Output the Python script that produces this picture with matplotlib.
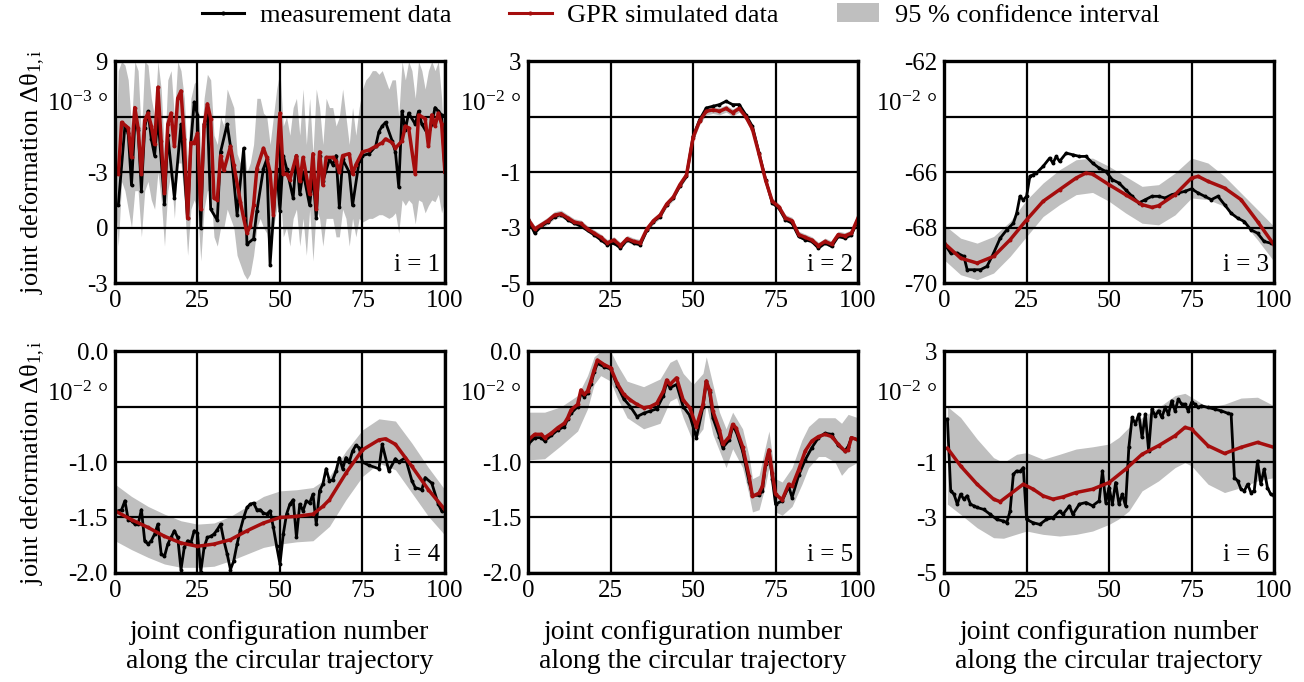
import numpy as np
import matplotlib
matplotlib.use("Agg")
import matplotlib.pyplot as plt
from matplotlib.patches import Patch
from matplotlib.lines import Line2D

plt.rcParams['font.family'] = ['Liberation Serif', 'DejaVu Serif']
plt.rcParams['mathtext.fontset'] = 'custom'
plt.rcParams['mathtext.rm'] = 'Liberation Serif'
plt.rcParams['mathtext.it'] = 'Liberation Serif:italic'

RED = "#a50d0d"
GRAY = "#bfbfbf"

# ---------------- panel i = 1 (10^-3 deg) ----------------
meas1_x = [1, 3, 4, 5, 6, 7, 8, 9, 10, 11, 12, 13, 15, 16, 18, 20, 22, 23, 24, 25, 26, 27, 28, 29, 31, 32,
           34, 35, 37, 39, 40, 42, 43, 45, 46, 47, 49, 50, 51, 52, 54, 55, 56, 57, 59, 60, 61, 62, 63, 65,
           66, 67, 68, 69, 71, 72, 74, 75, 77, 79, 80, 81, 82, 84, 85, 86, 87, 88, 89, 91, 92, 93, 95, 96,
           97, 98, 99, 100]
meas1_y = [1.2, 5.5, 5.1, 2.3, 5.6, 5.3, 2.0, 5.4, 6.3, 4.8, 3.9, 6.0, 1.3, 5.0, 1.6, 5.6, 0.5, 4.6, 6.8, 6.1,
           0.0, 5.6, 6.2, 1.0, 0.4, 4.1, 5.6, 4.4, 0.7, 4.3, -0.9, -0.6, 0.9, 3.2, 3.7, -2.0, 3.2, 0.9, 3.9,
           3.2, 1.6, 3.9, 1.8, 3.0, 1.2, 2.9, 0.5, 3.9, 2.5, 3.7, 3.4, 3.9, 1.1, 3.7, 3.0, 1.2, 3.6, 3.9, 4.0,
           4.4, 5.2, 5.5, 5.7, 4.7, 4.1, 2.2, 6.3, 5.3, 6.2, 5.6, 6.3, 5.6, 5.0, 5.6, 6.5, 6.3, 6.1, 3.0]
gpr1_x = [1, 2, 4, 5, 6, 7, 8, 9, 10, 11, 12, 13, 14, 15, 16, 17, 18, 19, 20, 21, 22, 23, 24, 25, 26, 27,
          28, 29, 30, 31, 32, 33, 35, 36, 38, 39, 40, 41, 42, 43, 45, 46, 47, 48, 50, 51, 52, 53, 55, 56,
          57, 59, 60, 61, 62, 63, 64, 66, 67, 68, 69, 71, 72, 73, 75, 77, 79, 81, 82, 84, 85, 87, 88, 89,
          91, 92, 94, 95, 96, 97, 98, 99, 100]
gpr1_y = [2.9, 5.7, 5.4, 3.8, 6.5, 5.4, 2.9, 5.8, 6.2, 5.5, 4.5, 7.6, 4.7, 1.9, 5.6, 6.2, 4.4, 7.0, 7.4, 4.8,
          0.5, 4.6, 4.6, 5.1, 1.0, 5.5, 6.7, 5.9, 1.6, 1.5, 3.9, 3.1, 4.4, 3.4, 1.4, 0.5, -0.3, 0.1, 1.2,
          3.2, 4.3, 3.8, 3.0, 0.7, 6.2, 2.9, 2.9, 2.6, 3.9, 2.5, 3.8, 1.8, 4.0, 1.0, 4.1, 2.3, 3.8, 3.8, 3.6,
          3.0, 3.9, 4.0, 2.9, 3.4, 4.1, 4.2, 4.4, 4.6, 4.8, 4.6, 4.3, 4.7, 5.5, 5.4, 2.9, 6.1, 5.9, 4.4,
          6.1, 5.5, 6.2, 5.6, 3.0]
band1_x = list(range(0, 101))
band1_hi = [3, 8.5, 9, 8.8, 8, 5.5, 9, 8.5, 5, 9, 8.8, 7, 6, 9, 7.5, 4, 8, 8.5, 6, 9, 8.5, 7, 3.5, 7, 7.8,
            8, 4, 7, 8.3, 8, 5, 4.5, 6, 5.5, 7.5, 7, 6.5, 4, 3.5, 4.5, 3, 3.5, 4.5, 7, 7, 6.2, 6, 4.5, 6,
            7.5, 8.5, 5.5, 6, 5, 6.5, 7, 5, 7.5, 4.5, 7, 4, 7.5, 6.5, 4.5, 7, 6.5, 6.5, 5.5, 6, 7.5, 6,
            4.5, 6.5, 5, 6.5, 7.5, 8, 8.2, 8.5, 8.5, 8.3, 8.5, 8, 7.5, 8, 8, 6, 9, 8, 9, 8.5, 7, 9, 8.5,
            7.5, 8.5, 9, 8.5, 9, 7, 3.5]
band1_lo = [1.5, -1, 2.5, 2, 1, 0, 2, 2, -0.5, 2, 2.5, 1.5, 1, 3, 1.5, -1, 2, 3, 0.5, 3.5, 3.5, 1.5, -1.5,
            1, 1.5, 1, -1.8, 1, 2, 2, -0.5, -1, 0, 0, 1, 0.5, 0, -1.5, -2, -2.5, -2.8, -2.5, -1.5, 0, 0.5,
            0, -0.3, -1.5, 0, 1, 2, -0.5, 0, -1, 0.5, 1, -1, 0.5, -1.5, 1, -1.8, 1, 0.5, -1, 0.5, 0.5,
            0.5, -0.5, -0.5, 1, 0.5, -1, 0.5, -0.5, 0.5, 0.3, 0.4, 0.5, 0.5, 0.6, 0.7, 0.7, 0.6, 0.5, 0.6,
            0.8, -0.3, 1.5, 1.2, 1.5, 1.3, 0.2, 1.5, 1.4, 0.8, 1.2, 1.5, 1.4, 1.8, 0.8, 1.5]

# ---------------- panel i = 2 (10^-2 deg) ----------------
x2 = list(range(0, 101, 2))
meas2_y = [-2.72, -3.2, -2.95, -2.8, -2.6, -2.53, -2.72, -2.84, -2.95, -3.1, -3.26, -3.44, -3.62, -3.56,
           -3.74, -3.44, -3.56, -3.62, -3.1, -2.78, -2.6, -2.17, -1.93, -1.5, -1.15, 0.29, 0.9, 1.32, 1.38,
           1.44, 1.56, 1.44, 1.44, 1.07, 0.65, -0.31, -1.27, -2.11, -2.3, -2.72, -2.84, -3.32, -3.44, -3.5,
           -3.74, -3.56, -3.68, -3.32, -3.38, -3.26, -2.72]
gpr2_y = [-2.7, -3.05, -2.9, -2.75, -2.55, -2.5, -2.65, -2.8, -2.85, -3.05, -3.2, -3.35, -3.55, -3.45,
          -3.65, -3.4, -3.5, -3.55, -3.05, -2.75, -2.55, -2.15, -1.9, -1.45, -1.1, 0.25, 0.85, 1.2, 1.25,
          1.2, 1.3, 1.15, 1.3, 1.0, 0.55, -0.35, -1.3, -2.05, -2.25, -2.65, -2.75, -3.25, -3.35, -3.45,
          -3.65, -3.5, -3.6, -3.25, -3.3, -3.2, -2.65]
gpr2_half = [0.12, 0.12, 0.12, 0.13, 0.13, 0.13, 0.12, 0.12, 0.12, 0.12, 0.12, 0.12, 0.12, 0.12, 0.12,
             0.12, 0.12, 0.12, 0.12, 0.12, 0.12, 0.12, 0.12, 0.12, 0.13, 0.13, 0.13, 0.13, 0.13, 0.13,
             0.13, 0.13, 0.13, 0.13, 0.13, 0.13, 0.13, 0.12, 0.12, 0.12, 0.12, 0.12, 0.12, 0.12, 0.12,
             0.12, 0.12, 0.12, 0.12, 0.12, 0.12]

# ---------------- panel i = 3 (10^-2 deg) ----------------
meas3_x = [0, 2, 4, 6, 7, 9, 11, 13, 15, 17, 19, 21, 22, 23, 24, 25, 26, 27, 28, 30, 32, 33, 34, 35, 37,
           39, 41, 43, 45, 47, 49, 51, 53, 55, 57, 59, 61, 63, 65, 67, 69, 71, 73, 75, 77, 79, 81, 83, 85,
           87, 89, 91, 93, 95, 97, 99]
meas3_y = [-68.56, -68.92, -68.92, -69.04, -69.52, -69.52, -69.52, -69.4, -68.92, -68.38, -68.08, -67.84,
           -67.48, -66.87, -67.0, -66.87, -66.15, -66.09, -66.03, -65.79, -65.49, -65.67, -65.43, -65.61,
           -65.31, -65.37, -65.43, -65.43, -65.67, -65.85, -65.97, -66.27, -66.39, -66.63, -66.87, -67.11,
           -66.99, -66.87, -66.87, -66.93, -66.81, -66.75, -66.69, -66.6, -66.75, -66.87, -66.99, -66.87,
           -67.17, -67.48, -67.66, -67.78, -68.08, -68.2, -68.5, -68.56]
gpr3_x = [0, 5, 10, 15, 20, 25, 30, 35, 40, 43, 45, 50, 55, 60, 63, 65, 70, 75, 77, 80, 85, 90, 95, 100]
gpr3_y = [-68.56, -69.1, -69.28, -69.04, -68.44, -67.72, -67.05, -66.63, -66.21, -66.03, -66.07, -66.45,
          -66.81, -67.17, -67.27, -67.21, -66.81, -66.21, -66.15, -66.33, -66.57, -66.99, -67.78, -68.62]
band3_x = [0, 5, 10, 15, 20, 25, 30, 35, 40, 45, 50, 55, 60, 65, 70, 75, 80, 85, 90, 95, 100]
band3_hi = [-67.9, -68.38, -68.56, -68.32, -67.78, -67.0, -66.39, -65.91, -65.55, -65.49, -65.79, -66.15,
            -66.51, -66.45, -66.03, -65.49, -65.67, -66.15, -66.75, -67.35, -67.96]
band3_lo = [-69.16, -69.7, -69.88, -69.64, -69.04, -68.32, -67.6, -67.17, -66.81, -66.73, -67.05, -67.47,
            -67.84, -67.9, -67.54, -66.93, -66.99, -67.23, -67.72, -68.44, -69.22]

# ---------------- panel i = 4 (10^-2 deg) ----------------
meas4_x = [1, 2, 3, 4, 5, 6, 7, 8, 9, 10, 11, 12, 13, 14, 15, 16, 17, 18, 19, 20, 21, 22, 23, 24, 25, 26,
           27, 28, 29, 30, 31, 32, 33, 34, 35, 36, 37, 38, 39, 40, 41, 42, 43, 44, 45, 46, 47, 48, 49, 50,
           51, 52, 53, 54, 55, 56, 57, 58, 59, 60, 61, 62, 63, 64, 65, 66, 67, 68, 69, 70, 71, 72, 73, 74,
           75, 77, 80, 81, 83, 85, 86, 88, 90, 91, 93, 94, 96, 98, 99]
meas4_y = [-1.44, -1.43, -1.35, -1.52, -1.53, -1.56, -1.56, -1.43, -1.71, -1.74, -1.71, -1.65, -1.56,
           -1.83, -1.85, -1.74, -1.68, -1.62, -1.68, -1.97, -1.77, -1.71, -1.73, -1.62, -1.64, -1.99,
           -1.77, -1.68, -1.67, -1.65, -1.61, -1.56, -1.71, -1.83, -1.97, -1.89, -1.74, -1.61, -1.50,
           -1.41, -1.38, -1.37, -1.43, -1.43, -1.46, -1.47, -1.44, -1.59, -1.76, -1.92, -1.65, -1.47,
           -1.38, -1.34, -1.68, -1.38, -1.44, -1.35, -1.37, -1.29, -1.56, -1.26, -1.20, -1.06, -1.17,
           -1.16, -1.08, -0.96, -1.06, -0.96, -1.00, -0.90, -0.85, -0.87, -1.00, -1.03, -1.06, -0.84,
           -1.08, -0.97, -1.00, -0.96, -1.17, -1.23, -1.25, -1.14, -1.19, -1.38, -1.44]
gpr4_x = [0, 5, 10, 15, 20, 25, 30, 35, 40, 45, 50, 55, 60, 63, 65, 70, 75, 80, 82, 85, 90, 95, 100]
gpr4_y = [-1.44, -1.52, -1.59, -1.67, -1.73, -1.76, -1.74, -1.70, -1.62, -1.55, -1.50, -1.49, -1.47, -1.40,
          -1.34, -1.10, -0.89, -0.80, -0.79, -0.84, -1.04, -1.25, -1.43]
band4_x = [0, 5, 10, 15, 20, 25, 30, 35, 40, 45, 50, 55, 60, 65, 70, 75, 80, 85, 90, 95, 100]
band4_hi = [-1.20, -1.31, -1.40, -1.47, -1.53, -1.56, -1.55, -1.49, -1.40, -1.31, -1.26, -1.25, -1.23,
            -1.13, -0.90, -0.71, -0.61, -0.63, -0.83, -1.05, -1.25]
band4_lo = [-1.71, -1.79, -1.86, -1.92, -1.95, -1.95, -1.94, -1.89, -1.83, -1.77, -1.74, -1.72, -1.71,
            -1.58, -1.34, -1.13, -1.01, -1.07, -1.28, -1.49, -1.66]

# ---------------- panel i = 5 (10^-2 deg) ----------------
gpr5_x = [0, 2, 4, 5, 7, 9, 11, 12, 13, 15, 16, 17, 18, 19, 20, 21, 23, 25, 27, 29, 31, 33, 35, 37, 39,
          41, 42, 43, 45, 47, 49, 51, 53, 54, 55, 56, 58, 59, 61, 62, 63, 65, 67, 68, 70, 71, 72, 73, 74,
          75, 77, 79, 80, 82, 84, 86, 88, 90, 92, 94, 96, 97, 98, 100]
gpr5_y = [-0.80, -0.75, -0.75, -0.78, -0.74, -0.69, -0.65, -0.60, -0.53, -0.48, -0.35, -0.39, -0.36,
          -0.27, -0.17, -0.08, -0.12, -0.15, -0.29, -0.39, -0.44, -0.48, -0.51, -0.50, -0.47, -0.36, -0.26,
          -0.30, -0.24, -0.44, -0.51, -0.68, -0.48, -0.27, -0.35, -0.54, -0.71, -0.84, -0.77, -0.66, -0.69,
          -0.86, -1.13, -1.31, -1.28, -1.22, -1.01, -0.89, -1.10, -1.29, -1.34, -1.20, -1.22, -1.07, -0.90,
          -0.81, -0.77, -0.75, -0.77, -0.84, -0.90, -0.89, -0.78, -0.80]
meas5_y = [-0.84, -0.78, -0.78, -0.81, -0.76, -0.71, -0.68, -0.61, -0.56, -0.50, -0.38, -0.41, -0.38,
           -0.30, -0.19, -0.11, -0.14, -0.16, -0.31, -0.43, -0.50, -0.59, -0.56, -0.54, -0.52, -0.40, -0.28,
           -0.33, -0.30, -0.50, -0.58, -0.78, -0.50, -0.27, -0.37, -0.60, -0.77, -0.87, -0.80, -0.68, -0.72,
           -0.90, -1.18, -1.30, -1.30, -1.26, -1.02, -0.90, -1.15, -1.38, -1.35, -1.22, -1.32, -1.12, -0.98,
           -0.87, -0.78, -0.74, -0.75, -0.85, -0.90, -0.86, -0.78, -0.80]
band5_x = [0, 5, 10, 15, 18, 20, 22, 25, 27, 30, 35, 40, 43, 45, 47, 50, 53, 54, 56, 58, 60, 62, 65, 67,
           68, 70, 72, 73, 75, 77, 80, 83, 85, 88, 90, 93, 95, 97, 100]
band5_hi = [-0.55, -0.55, -0.50, -0.40, -0.22, -0.05, 0.0, 0.0, -0.12, -0.27, -0.32, -0.25, -0.10, -0.07,
            -0.20, -0.30, -0.20, -0.05, -0.30, -0.55, -0.70, -0.55, -0.70, -0.95, -1.15, -1.12, -0.85,
            -0.72, -1.15, -1.18, -1.05, -0.80, -0.68, -0.60, -0.60, -0.60, -0.65, -0.57, -0.60]
band5_lo = [-0.98, -0.97, -0.85, -0.72, -0.52, -0.30, -0.22, -0.27, -0.42, -0.60, -0.70, -0.65, -0.45,
            -0.42, -0.60, -0.82, -0.70, -0.48, -0.75, -0.90, -1.05, -0.88, -1.05, -1.30, -1.45, -1.43,
            -1.20, -1.05, -1.45, -1.48, -1.40, -1.20, -1.05, -0.95, -0.95, -1.00, -1.12, -1.05, -1.00]

# ---------------- panel i = 6 (10^-2 deg) ----------------
meas6_x = [1, 2, 3, 4, 5, 6, 7, 8, 9, 10, 12, 14, 16, 18, 19, 20, 21, 22, 23, 24, 25, 27, 29, 31, 33, 35,
           36, 38, 39, 41, 43, 45, 47, 48, 49, 50, 51, 52, 53, 54, 55, 56, 57, 58, 59, 60, 61, 62, 63, 64,
           65, 66, 67, 68, 69, 70, 71, 72, 73, 74, 75, 76, 77, 78, 80, 82, 84, 86, 87, 88, 89, 90, 91, 92,
           93, 94, 95, 96, 97, 98, 99, 100]
meas6_y = [0.55, -2.04, -2.16, -2.52, -2.16, -2.34, -2.22, -2.52, -2.58, -2.64, -2.71, -2.89, -3.07, -3.13,
           -3.19, -2.77, -1.44, -1.32, -1.34, -1.20, -3.07, -3.19, -3.25, -3.07, -3.01, -2.77, -2.89, -2.58,
           -2.89, -2.52, -2.46, -2.58, -2.40, -1.32, -2.46, -1.92, -2.52, -1.74, -2.52, -2.16, -2.58, -0.47,
           0.61, 0.37, 0.73, -0.11, 0.73, -0.59, 0.91, 0.67, 0.85, 0.61, 0.97, 0.73, 1.21, 0.85, 1.27, 1.09,
           1.09, 0.85, 1.15, 1.09, 0.97, 1.03, 0.97, 0.91, 0.85, 0.76, 0.73, -1.56, -1.68, -1.98, -2.04,
           -1.80, -2.10, -2.04, -0.96, -1.80, -1.26, -1.92, -2.16, -2.22]
gpr6_x = [1, 5, 10, 15, 17, 20, 24, 27, 30, 33, 36, 40, 45, 50, 55, 60, 65, 70, 73, 75, 80, 85, 90, 95, 100]
gpr6_y = [-0.5, -1.14, -1.80, -2.34, -2.43, -2.16, -1.80, -1.98, -2.22, -2.34, -2.26, -2.10, -1.98, -1.74,
          -1.26, -0.72, -0.41, -0.05, 0.25, 0.19, -0.41, -0.69, -0.47, -0.29, -0.47]
band6_x = [1, 5, 10, 15, 18, 22, 25, 30, 35, 40, 45, 50, 53, 56, 60, 65, 70, 73, 75, 80, 85, 90, 95, 100]
band6_hi = [1.0, 0.61, -0.17, -0.84, -1.02, -0.72, -0.66, -0.9, -0.72, -0.53, -0.45, -0.35, -0.11, 0.25,
            0.61, 0.97, 1.40, 1.48, 1.34, 0.97, 1.09, 1.31, 1.34, 1.03]
band6_lo = [-2.52, -2.89, -3.37, -3.73, -3.75, -3.6, -3.49, -3.61, -3.67, -3.61, -3.49, -3.25, -3.05,
            -2.77, -2.04, -1.68, -1.20, -1.02, -1.14, -1.80, -2.10, -1.92, -1.68, -1.56]

# y axes: limits, tick values, tick labels (the unit label sits at the 2nd tick)
ylims = [(-3, 9), (-5, 3), (-70, -62), (-2, 0), (-2, 0), (-5, 3)]
yticks = [[9, 6, 3, 0, -3], [3, 1, -1, -3, -5], [-62, -64, -66, -68, -70],
          [0, -0.5, -1, -1.5, -2], [0, -0.5, -1, -1.5, -2], [3, 1, -1, -3, -5]]
ylabels = [["9", "", "-3", "0", "-3"], ["3", "", "-1", "-3", "-5"], ["-62", "", "-66", "-68", "-70"],
           ["0.0", "", "-1.0", "-1.5", "-2.0"], ["0.0", "", "-1.0", "-1.5", "-2.0"],
           ["3", "", "-1", "-3", "-5"]]
units = ["10$^{-3}$ °", "10$^{-2}$ °", "10$^{-2}$ °", "10$^{-2}$ °", "10$^{-2}$ °", "10$^{-2}$ °"]
xticks = [0, 25, 50, 75, 100]

FS = 18
fig = plt.figure(figsize=(13.04, 6.82), dpi=100)
lefts = [0.0882, 0.405, 0.724]
bottoms = [0.585, 0.160]
W, H = 0.253, 0.325

panels = [
    (meas1_x, meas1_y, gpr1_x, gpr1_y, band1_x, band1_lo, band1_hi),
    (x2, meas2_y, x2, gpr2_y, x2, [g - h for g, h in zip(gpr2_y, gpr2_half)],
     [g + h for g, h in zip(gpr2_y, gpr2_half)]),
    (meas3_x, meas3_y, gpr3_x, gpr3_y, band3_x, band3_lo, band3_hi),
    (meas4_x, meas4_y, gpr4_x, gpr4_y, band4_x, band4_lo, band4_hi),
    (gpr5_x, meas5_y, gpr5_x, gpr5_y, band5_x, band5_lo, band5_hi),
    (meas6_x, meas6_y, gpr6_x, gpr6_y, band6_x, band6_lo, band6_hi),
]

for k, (mx, my, gx, gy, bx, blo, bhi) in enumerate(panels):
    r, c = divmod(k, 3)
    ax = fig.add_axes([lefts[c], bottoms[r], W, H])
    ax.fill_between(bx, blo, bhi, color=GRAY, lw=0, zorder=1)
    ax.plot(mx, my, color="black", lw=2.0, marker="o", ms=1.8, zorder=3)
    ax.plot(gx, gy, color=RED, lw=2.5, marker="o", ms=1.8, zorder=4)
    ax.set_xlim(0, 100)
    ax.set_ylim(*ylims[k])
    ax.set_xticks(xticks)
    ax.set_yticks(yticks[k])
    ax.set_yticklabels(ylabels[k])
    ax.grid(True, color="black", lw=1.6, zorder=2)
    ax.set_axisbelow(False)
    ax.tick_params(length=0, labelsize=FS, pad=5)
    for s in ax.spines.values():
        s.set_linewidth(2.4)
        s.set_zorder(5)
    ax.annotate(units[k], xy=(0, yticks[k][1]), xycoords=("axes fraction", "data"),
                xytext=(-5, 9), textcoords="offset points", ha="right", va="center", fontsize=FS)
    ax.text(0.985, 0.03, "i = %d" % (k + 1), transform=ax.transAxes, ha="right", va="bottom",
            fontsize=FS, zorder=6)

for yc in [0.748, 0.322]:
    fig.text(0.014, yc, "joint deformation Δθ$_{\\mathrm{1,i}}$", rotation=90, ha="left", va="center",
             fontsize=FS + 1)
for c in range(3):
    fig.text(lefts[c] + W / 2, 0.012, "joint configuration number\nalong the circular trajectory",
             ha="center", va="bottom", fontsize=FS + 2, linespacing=1.2)

handles = [Line2D([], [], color="black", lw=2.2, marker="o", ms=2),
           Line2D([], [], color=RED, lw=2.2, marker="o", ms=2),
           Patch(facecolor=GRAY, edgecolor="none")]
fig.legend(handles, ["measurement data", "GPR simulated data", "95 % confidence interval"],
           loc="upper center", bbox_to_anchor=(0.522, 1.03), ncol=3, frameon=False, fontsize=FS + 1,
           handlelength=1.6, columnspacing=2.2, handletextpad=0.6)

fig.savefig("out.png", dpi=100)
